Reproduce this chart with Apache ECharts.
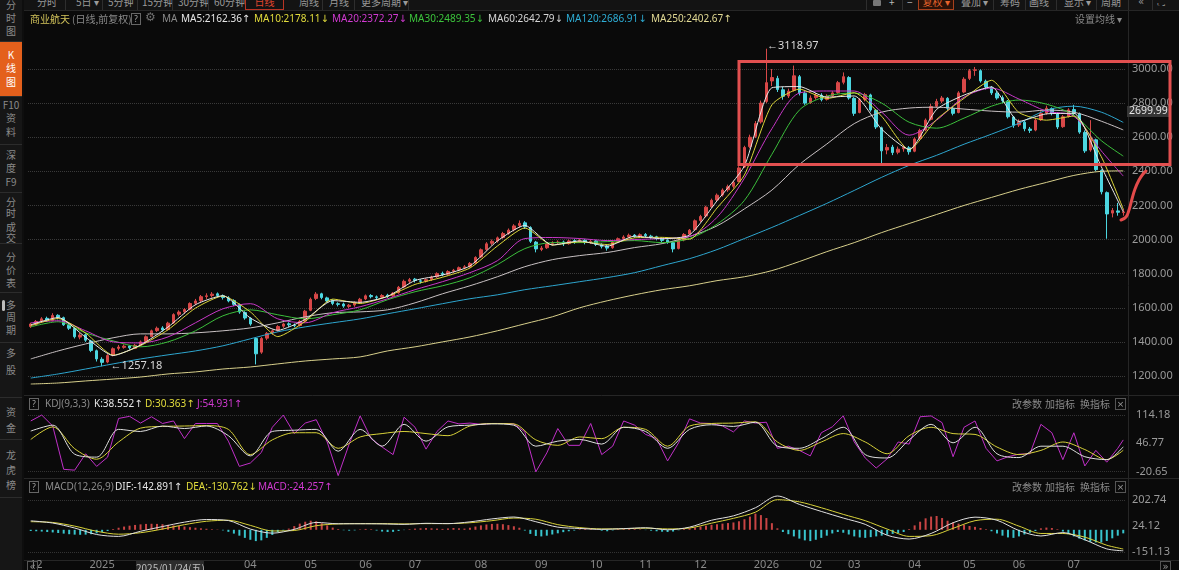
<!DOCTYPE html>
<html><head><meta charset="utf-8">
<script src="https://cdn.jsdelivr.net/npm/echarts/dist/echarts.min.js"></script>
<style>
html,body{margin:0;padding:0;background:#0a0a0a;}
#wrap{position:relative;width:1179px;height:570px;overflow:hidden;background:#0a0a0a;}
#chart{position:absolute;left:0;top:0;width:1179px;height:570px;}
.t{position:absolute;white-space:nowrap;font-size:10px;line-height:13px;font-family:'Noto Sans','DejaVu Sans','Noto Sans CJK SC',sans-serif;pointer-events:none;}
.c{font-family:'Noto Sans CJK SC','Noto Sans',sans-serif;}
.q{position:absolute;width:8px;height:10px;border:1px solid #666;color:#aaa;font-size:8px;line-height:10px;text-align:center;font-family:'Noto Sans',sans-serif;}
.x{position:absolute;width:9px;height:10px;border:1px solid #555;color:#999;font-size:9px;line-height:10px;text-align:center;font-family:'DejaVu Sans',sans-serif;}
.sb{position:absolute;left:0;width:22px;background:#161616;border-bottom:1px solid #2c2c2c;}
.sc{position:absolute;left:0;width:22px;text-align:center;font-size:10px;line-height:12px;color:#8a8a8a;font-family:'Noto Sans CJK SC','Noto Sans',sans-serif;}
.tb{position:absolute;top:-6px;height:15px;font-size:10px;line-height:15px;color:#9a9a9a;font-family:'Noto Sans CJK SC','Noto Sans',sans-serif;white-space:nowrap;}
.sep{position:absolute;top:0;width:1px;height:10px;background:#2e2e2e;}
</style>
</head><body>
<div id="wrap">
<div id="chart"></div>

<!-- top toolbar -->
<div style="position:absolute;left:22px;top:0;width:1157px;height:10px;background:#131313;border-bottom:1px solid #262626;"></div>
<div class="tb" style="left:37px">分时</div>
<div class="sep" style="left:65px"></div>
<div class="tb" style="left:76px">5日 ▾</div>
<div class="sep" style="left:102px"></div>
<div class="tb" style="left:108px">5分钟</div>
<div class="sep" style="left:137px"></div>
<div class="tb" style="left:142px">15分钟</div>
<div class="sep" style="left:172px"></div>
<div class="tb" style="left:178px">30分钟</div>
<div class="sep" style="left:208px"></div>
<div class="tb" style="left:214px">60分钟</div>
<div class="tb" style="left:245px;width:37px;text-align:center;border:1px solid #b83424;color:#e0452e;top:-7px">日线</div>
<div class="tb" style="left:299px">周线</div>
<div class="sep" style="left:322px"></div>
<div class="tb" style="left:329px">月线</div>
<div class="sep" style="left:354px"></div>
<div class="tb" style="left:361px">更多周期 ▾</div>
<div class="sep" style="left:408px"></div>
<div class="sep" style="left:866px"></div>
<div style="position:absolute;left:873px;top:0;width:8px;height:6px;background:#777;border-radius:1px"></div>
<div class="tb" style="left:889px;color:#bbb">+</div>
<div class="sep" style="left:902px"></div>
<div class="tb" style="left:907px;color:#bbb">−</div>
<div class="tb" style="left:918px;width:34px;text-align:center;border:1px solid #a8401c;background:#2a1208;color:#e8642c;top:-7px">复权 ▾</div>
<div class="tb" style="left:961px">叠加 ▾</div>
<div class="sep" style="left:993px"></div>
<div class="tb" style="left:1000px">筹码</div>
<div class="sep" style="left:1025px"></div>
<div class="tb" style="left:1029px">画线</div>
<div class="sep" style="left:1056px"></div>
<div class="tb" style="left:1064px">显示 ▾</div>
<div class="sep" style="left:1096px"></div>
<div class="tb" style="left:1101px">周期</div>
<div class="sep" style="left:1128px"></div>
<div class="tb" style="left:1138px;font-family:'DejaVu Sans'">«</div>
<div class="sep" style="left:1152px"></div>
<div class="tb" style="left:1158px;font-family:'DejaVu Sans'">⛶</div>

<!-- sidebar -->
<div style="position:absolute;left:0;top:0;width:22px;height:570px;background:#161616;"></div>
<div style="position:absolute;left:22px;top:0;width:2px;height:570px;background:#0e0e0e;"></div>
<div class="sb" style="top:0;height:41px"></div>
<div class="sb" style="top:42px;height:54px;background:#e4601c"></div>
<div class="sb" style="top:97px;height:47px"></div>
<div class="sb" style="top:145px;height:47px"></div>
<div class="sb" style="top:193px;height:50px"></div>
<div class="sb" style="top:244px;height:48px"></div>
<div class="sb" style="top:293px;height:49px"></div>
<div class="sb" style="top:343px;height:54px"></div>
<div class="sb" style="top:398px;height:41px"></div>
<div class="sb" style="top:440px;height:57px"></div>
<div style="position:absolute;left:2px;top:300px;width:3px;height:11px;background:#bdbdbd;border-radius:2px"></div>
<div class="sc" style="top:-1px">分</div><div class="sc" style="top:12px">时</div><div class="sc" style="top:25px">图</div>
<div class="sc" style="top:49px;color:#fff">K</div><div class="sc" style="top:62px;color:#fff">线</div><div class="sc" style="top:76px;color:#fff">图</div>
<div class="sc" style="top:99px">F10</div><div class="sc" style="top:112px">资</div><div class="sc" style="top:126px">料</div>
<div class="sc" style="top:149px">深</div><div class="sc" style="top:162px">度</div><div class="sc" style="top:176px">F9</div>
<div class="sc" style="top:196px">分</div><div class="sc" style="top:207px">时</div><div class="sc" style="top:221px">成</div><div class="sc" style="top:232px">交</div>
<div class="sc" style="top:251px">分</div><div class="sc" style="top:264px">价</div><div class="sc" style="top:277px">表</div>
<div class="sc" style="top:299px">多</div><div class="sc" style="top:311px">周</div><div class="sc" style="top:324px">期</div>
<div class="sc" style="top:347px">多</div><div class="sc" style="top:364px">股</div>
<div class="sc" style="top:406px">资</div><div class="sc" style="top:422px">金</div>
<div class="sc" style="top:449px">龙</div><div class="sc" style="top:464px">虎</div><div class="sc" style="top:479px">榜</div>

<!-- main legend row -->
<div class="t c" style="left:30px;top:12px;color:#d2c35a">商业航天</div>
<div class="t c" style="left:72px;top:12px;color:#8a8a8a">(日线,前复权)</div>
<div class="q" style="left:131px;top:13px">?</div>
<div class="t" style="left:145px;top:11px;color:#707070;font-family:'DejaVu Sans';font-size:12px">⚙</div>
<div class="t" style="left:162px;top:12px;color:#8a8a8a">MA</div>
<div class="t" style="left:181px;top:12px;color:#e6e6e6">MA5:2162.36↑</div>
<div class="t" style="left:254px;top:12px;color:#e2dc3c">MA10:2178.11↓</div>
<div class="t" style="left:332px;top:12px;color:#d23ad2">MA20:2372.27↓</div>
<div class="t" style="left:409px;top:12px;color:#3cc43c">MA30:2489.35↓</div>
<div class="t" style="left:488px;top:12px;color:#d6d6d6">MA60:2642.79↓</div>
<div class="t" style="left:566px;top:12px;color:#2eaed6">MA120:2686.91↓</div>
<div class="t" style="left:651px;top:12px;color:#e2da94">MA250:2402.67↑</div>
<div class="t c" style="left:1075px;top:12px;color:#8a8a8a">设置均线 ▾</div>

<!-- KDJ header -->
<div class="q" style="left:29px;top:398px">?</div>
<div class="t" style="left:45px;top:397px;color:#8a8a8a">KDJ(9,3,3)</div>
<div class="t" style="left:94px;top:397px;color:#e6e6e6">K:38.552↑</div>
<div class="t" style="left:145px;top:397px;color:#e2dc3c">D:30.363↑</div>
<div class="t" style="left:197px;top:397px;color:#d23ad2">J:54.931↑</div>
<div class="t c" style="left:1012px;top:397px;color:#8a8a8a">改参数</div>
<div class="t c" style="left:1045px;top:397px;color:#8a8a8a">加指标</div>
<div class="t c" style="left:1080px;top:397px;color:#8a8a8a">换指标</div>
<div class="x" style="left:1115px;top:398px">×</div>

<!-- MACD header -->
<div class="q" style="left:29px;top:481px">?</div>
<div class="t" style="left:45px;top:480px;color:#8a8a8a">MACD(12,26,9)</div>
<div class="t" style="left:115px;top:480px;color:#e6e6e6">DIF:-142.891↑</div>
<div class="t" style="left:186px;top:480px;color:#e2dc3c">DEA:-130.762↓</div>
<div class="t" style="left:258px;top:480px;color:#d23ad2">MACD:-24.257↑</div>
<div class="t c" style="left:1012px;top:480px;color:#8a8a8a">改参数</div>
<div class="t c" style="left:1045px;top:480px;color:#8a8a8a">加指标</div>
<div class="t c" style="left:1080px;top:480px;color:#8a8a8a">换指标</div>
<div class="x" style="left:1115px;top:481px">×</div>

<!-- bottom bits -->
<div class="x" style="left:27px;top:561px;font-size:10px">«</div>
<div class="x" style="left:1160px;top:561px;font-size:10px">»</div>
<div class="t c" style="left:136px;top:561px;width:68px;height:12px;background:#2c2c2c;color:#bdbdbd;text-align:center;line-height:14px">2025/01/24(五)</div>
</div>

<script>
const N = 200;
// candles: [open, close, low, high]
const candles = [
[1490,1505,1482,1512],[1503,1520,1495,1528],[1522,1535,1512,1545],[1538,1528,1518,1548],[1526,1555,1520,1568],
[1556,1545,1532,1562],[1542,1500,1494,1548],[1498,1480,1470,1510],[1478,1430,1420,1485],[1428,1440,1415,1452],
[1442,1410,1400,1450],[1405,1350,1340,1412],[1348,1300,1285,1355],[1298,1280,1257.18,1310],[1282,1320,1275,1328],
[1322,1360,1315,1368],[1362,1370,1350,1382],[1368,1375,1360,1385],[1376,1365,1355,1380],[1362,1380,1358,1388],
[1382,1400,1375,1408],[1402,1430,1396,1438],[1432,1465,1428,1472],[1466,1480,1458,1490],[1482,1470,1460,1492],
[1472,1510,1468,1518],[1512,1560,1505,1568],[1562,1575,1550,1585],[1576,1590,1565,1598],[1592,1625,1585,1632],
[1626,1640,1615,1652],[1642,1665,1632,1675],[1666,1670,1652,1685],[1672,1680,1660,1692],[1682,1672,1660,1690],
[1670,1660,1648,1678],[1658,1640,1632,1668],[1642,1620,1610,1650],[1618,1575,1565,1625],[1572,1540,1530,1580],
[1538,1505,1495,1545],[1420,1330,1268,1428],[1340,1420,1330,1428],[1422,1450,1410,1458],[1452,1465,1442,1472],
[1468,1490,1460,1498],[1492,1505,1482,1512],[1506,1500,1488,1515],[1498,1495,1485,1508],[1496,1520,1490,1528],
[1522,1580,1518,1588],[1585,1650,1580,1660],[1655,1680,1645,1692],[1682,1660,1650,1688],[1658,1640,1630,1665],
[1642,1625,1615,1650],[1624,1620,1608,1632],[1622,1610,1600,1630],[1608,1615,1598,1622],[1616,1630,1606,1638],
[1632,1650,1625,1658],[1652,1670,1645,1678],[1672,1665,1655,1680],[1664,1660,1650,1672],[1662,1672,1652,1680],
[1674,1668,1658,1682],[1670,1685,1662,1692],[1688,1720,1682,1728],[1722,1755,1715,1765],[1756,1765,1745,1775],
[1768,1760,1748,1775],[1758,1755,1742,1768],[1756,1765,1748,1772],[1766,1780,1758,1788],[1782,1800,1775,1808],
[1802,1795,1785,1812],[1796,1812,1790,1820],[1814,1820,1805,1828],[1822,1835,1815,1842],[1836,1840,1825,1850],
[1842,1860,1835,1868],[1862,1895,1856,1902],[1898,1940,1892,1948],[1942,1975,1935,1985],[1978,1990,1965,2000],
[1992,2010,1982,2018],[2012,2035,2005,2045],[2036,2055,2028,2065],[2058,2080,2048,2090],[2082,2095,2070,2112],
[2098,2075,2062,2108],[2070,1990,1980,2078],[1985,1945,1925,1992],[1942,1950,1932,1962],[1952,1975,1945,1982],
[1978,1980,1965,1990],[1982,1985,1970,1995],[1986,1975,1962,1994],[1976,1992,1970,2000],[1994,1988,1975,2002],
[1990,1995,1980,2005],[1996,1985,1972,2002],[1984,1990,1975,1998],[1992,1972,1962,1998],[1970,1960,1948,1978],
[1962,1950,1935,1968],[1952,1985,1946,1992],[1988,2005,1980,2012],[2006,2015,1998,2025],[2016,2025,2008,2035],
[2026,2020,2010,2032],[2018,2028,2012,2036],[2030,2022,2012,2038],[2020,2015,2005,2028],[2016,2005,1995,2022],
[2004,1995,1985,2012],[1996,1985,1975,2002],[1982,1945,1925,1990],[1948,1995,1942,2002],[1998,2030,1990,2038],
[2032,2055,2025,2062],[2058,2110,2052,2118],[2112,2135,2102,2145],[2138,2190,2130,2198],[2192,2230,2185,2240],
[2232,2260,2222,2270],[2262,2290,2252,2300],[2292,2310,2280,2322],[2312,2335,2300,2345],[2340,2420,2335,2430],
[2425,2540,2420,2550],[2545,2600,2535,2615],[2605,2680,2595,2695],[2690,2800,2680,2815],[2810,2920,2800,3118.97],
[2930,2950,2900,3000],[2945,2880,2865,2960],[2878,2840,2820,2895],[2842,2870,2830,2885],[2875,2960,2868,3020],
[2955,2860,2845,2965],[2858,2800,2790,2870],[2802,2830,2795,2845],[2832,2845,2820,2860],[2846,2820,2810,2858],
[2822,2840,2815,2852],[2842,2860,2832,2870],[2862,2920,2855,2930],[2922,2955,2910,2980],[2950,2830,2820,2958],
[2828,2740,2725,2835],[2745,2820,2740,2830],[2822,2850,2810,2860],[2848,2760,2750,2855],[2758,2660,2648,2765],
[2655,2520,2447,2662],[2525,2540,2500,2560],[2542,2510,2495,2555],[2512,2530,2500,2545],[2532,2540,2515,2555],
[2538,2515,2498,2548],[2518,2590,2512,2600],[2592,2640,2585,2650],[2642,2700,2635,2710],[2705,2780,2698,2795],
[2782,2810,2770,2825],[2812,2830,2800,2842],[2828,2770,2760,2835],[2768,2740,2728,2778],[2745,2860,2740,2870],
[2865,2940,2858,2952],[2945,2990,2935,3000],[2992,2995,2960,3012],[2990,2930,2920,2998],[2928,2895,2880,2938],
[2892,2860,2848,2900],[2858,2830,2820,2870],[2832,2815,2800,2845],[2812,2720,2710,2818],[2718,2670,2655,2725],
[2672,2690,2660,2705],[2688,2650,2635,2695],[2648,2640,2625,2660],[2642,2700,2635,2710],[2702,2740,2695,2752],
[2742,2770,2732,2785],[2768,2740,2728,2775],[2738,2660,2648,2745],[2662,2720,2655,2730],[2722,2760,2715,2770],
[2762,2740,2728,2790],[2738,2630,2620,2745],[2628,2520,2508,2640],[2525,2590,2515,2700],[2585,2410,2400,2592],
[2405,2280,2265,2412],[2275,2150,2005,2282],[2155,2170,2130,2185],[2168,2160,2140,2215],[2158,2162,2140,2180]
];

// moving averages, read every 5 bars (last value = last bar)
const MA_STEP = 5;
const ma5   = [1500,1543,1427,1320,1382,1487,1618,1671,1540,1468,1532,1642,1632,1667,1760,1792,1845,1992,2083,1968,1992,1961,2020,2005,2027,2227,2432,2890,2897,2835,2842,2647,2528,2763,2847,2895,2693,2737,2740,2427,2162.36];
const ma10  = [1495,1537,1452,1322,1378,1471,1598,1669,1576,1431,1520,1651,1625,1667,1737,1779,1833,1962,2068,1968,1987,1971,2010,2013,2002,2185,2379,2790,2882,2827,2861,2722,2527,2704,2828,2934,2745,2700,2724,2486,2178.11];
const ma20  = [1512,1524,1465,1400,1394,1429,1512,1594,1624,1535,1512,1571,1606,1653,1706,1753,1806,1876,2006,2012,2006,1994,2000,2006,2018,2130,2360,2650,2859,2871,2871,2747,2612,2700,2835,2888,2824,2753,2723,2520,2372.27];
const ma30  = [1488,1518,1453,1406,1371,1400,1465,1553,1588,1559,1535,1559,1588,1647,1694,1729,1776,1853,1947,1982,1982,1988,1994,1982,2006,2090,2230,2500,2759,2841,2859,2800,2688,2653,2712,2782,2818,2794,2729,2580,2489.35];
const ma60  = [1300,1347,1388,1424,1447,1447,1453,1465,1482,1512,1547,1571,1576,1588,1629,1682,1729,1782,1841,1882,1906,1924,1953,1976,2018,2080,2180,2290,2440,2560,2680,2747,2771,2776,2765,2753,2747,2759,2747,2694,2642.79];
const ma120 = [1188,1212,1241,1271,1300,1324,1347,1377,1418,1459,1488,1512,1535,1565,1594,1624,1653,1676,1706,1729,1753,1777,1806,1847,1888,1941,2006,2071,2141,2212,2288,2365,2435,2494,2559,2618,2682,2759,2782,2747,2686.91];
const ma250 = [1153,1159,1171,1182,1194,1212,1224,1241,1253,1271,1288,1300,1312,1347,1371,1400,1429,1465,1506,1547,1600,1641,1676,1706,1729,1759,1782,1818,1871,1929,1982,2041,2094,2147,2200,2247,2294,2335,2376,2400,2402.67];

// KDJ
const J_STEP = 2, KD_STEP = 4;
const kdjJ = [100,114,88,-15,-17,22,-8,14,106,111,95,110,94,100,58,94,94,94,52,-8,0,25,85,114,70,95,103,50,-30,45,112,58,38,20,109,85,33,75,100,93,95,92,94,94,93,74,-21,24,82,42,42,94,20,40,100,90,68,58,5,48,105,95,94,88,74,100,95,97,35,40,30,17,72,86,112,50,12,-12,10,50,45,110,112,96,15,85,100,35,5,15,21,22,92,72,8,72,-7,30,2,35,54.93];
const kdjK = [76,90,21,14,80,75,88,82,88,65,17,75,78,80,28,80,40,92,52,86,90,93,90,40,52,56,45,85,75,35,80,91,87,97,40,35,58,85,20,12,55,92,48,85,22,13,40,40,15,8,38.55];
const kdjD = [56,86,34,9,50,83,87,88,89,80,20,55,72,72,35,62,70,75,70,65,88,94,93,55,42,62,58,85,80,40,88,94,95,98,50,30,50,70,50,22,65,85,70,68,38,20,30,50,32,8,30.36];

// MACD
const dif = [61,46,12,-32,-45,-10,22,52,70,63,5,-23,3,50,41,41,40,37,44,42,54,74,87,55,18,9,3,8,14,0,18,65,95,150,230,173,125,80,37,-37,-63,-25,48,86,65,-5,-42,-19,-68,-130,-142.89];
const dea = [55,50,25,-10,-30,-20,5,35,58,65,30,-8,-5,28,40,42,42,40,42,42,48,62,80,72,35,15,6,7,11,6,12,45,78,120,205,190,150,105,62,5,-45,-40,10,62,72,25,-25,-25,-50,-105,-130.76];
const macdHist = [-8,-10,-12,-15,-18,-22,-26,-30,-33,-34,-33,-30,-24,-16,-8,5,14,22,28,33,37,40,41,40,38,34,30,26,22,18,14,10,7,4,2,-4,-14,-26,-40,-55,-68,-77,-72,-55,-35,-18,-5,8,25,42,55,62,58,45,30,15,5,-3,-6,-4,3,6,4,-5,-12,-15,-14,-8,-2,4,8,10,12,10,8,6,9,12,10,8,14,22,30,36,40,41,38,32,24,14,-5,-28,-42,-45,-40,-32,-24,-16,-10,-5,4,7,8,3,-6,-10,-4,6,8,7,5,3,-2,-6,-10,-13,-15,-12,-3,6,10,16,22,28,34,38,42,46,50,58,72,90,110,100,80,45,10,-15,-30,-45,-60,-72,-77,-68,-55,-40,-25,-15,-20,-32,-45,-52,-55,-50,-45,-40,-34,-28,-22,-15,5,30,55,78,90,94,80,62,50,42,34,26,20,12,4,-10,-25,-40,-52,-55,-45,-32,-20,-8,10,15,12,4,-12,-30,-45,-60,-72,-82,-86,-87,-76,-58,-40,-24.26];

// x-axis month ticks
const monthBars   = [1,13,40,51,61,70,82,93,103,112,122,134,143,150,161,171,180,190];
const monthLabels = ['12','2025','04','05','06','07','08','09','10','11','12','2026','02','03','04','05','06','07'];
const priceTicks = [1200,1400,1600,1800,2000,2200,2400,2600,2800,3000];

const cats = Array.from({length: N}, (_, i) => String(i));
const sampled = (arr, step) => arr.map((v, k) => [Math.min(k * step, N - 1), v]);

const UP = '#d84848', DOWN = '#4cd6e0';
const grid0 = {left: 28, width: 1098, top: 34.89, height: 358.17};
const grid1 = {left: 28, width: 1098, top: 415, height: 56.7};
const grid2 = {left: 28, width: 1098, top: 500, height: 55.5};

const mainSplitColors = [];
for (let v = 1100; v <= 3200; v += 100) mainSplitColors.push(priceTicks.includes(v) ? '#3a3a3a' : 'rgba(0,0,0,0)');

const axisLabelStyle = {color: '#9a9a9a', fontSize: 11, fontFamily: 'Noto Sans'};

function xAx(gi, showLabel) {
  return {
    type: 'category', gridIndex: gi, data: cats, boundaryGap: true,
    axisLine: {show: false}, axisTick: {show: false}, splitLine: {show: false},
    axisLabel: showLabel ? {
      show: true, color: '#8a8a8a', fontSize: 11, fontFamily: 'Noto Sans', margin: 7,
      interval: (idx) => monthBars.includes(idx),
      formatter: (val) => { const k = monthBars.indexOf(Number(val)); return k >= 0 ? monthLabels[k] : ''; }
    } : {show: false}
  };
}

function line(name, data, color, xi, yi, extra) {
  return Object.assign({
    type: 'line', name, data, xAxisIndex: xi, yAxisIndex: yi, symbol: 'none',
    lineStyle: {color, width: 1}, itemStyle: {color}, connectNulls: true, silent: true, z: 3
  }, extra || {});
}

const chart = echarts.init(document.getElementById('chart'), null, {renderer: 'canvas'});
const option = {
  backgroundColor: 'transparent',
  animation: false,
  grid: [grid0, grid1, grid2],
  xAxis: [xAx(0, false), xAx(1, false), xAx(2, true)],
  yAxis: [
    {type: 'value', gridIndex: 0, position: 'right', min: 1100, max: 3200, interval: 100, scale: true,
     axisLine: {show: false}, axisTick: {show: false},
     axisLabel: Object.assign({margin: 6, formatter: (v) => priceTicks.includes(v) ? v.toFixed(2) : ''}, axisLabelStyle),
     splitLine: {show: true, lineStyle: {type: 'dotted', color: mainSplitColors, width: 1}}},
    {type: 'value', gridIndex: 1, position: 'right', min: -20.65, max: 114.18, interval: 67.415,
     axisLine: {show: false}, axisTick: {show: false},
     axisLabel: Object.assign({margin: 10, formatter: (v) => v > 80 ? '114.18' : (v < 0 ? '-20.65' : '46.77')}, axisLabelStyle),
     splitLine: {show: true, lineStyle: {type: 'dotted', color: ['#333', 'rgba(0,0,0,0)', '#333']}}},
    {type: 'value', gridIndex: 2, position: 'right', min: -151.13, max: 202.74, interval: 176.935,
     axisLine: {show: false}, axisTick: {show: false},
     axisLabel: Object.assign({margin: 6, formatter: (v) => v > 100 ? '202.74' : (v < -100 ? '-151.13' : '24.12')}, axisLabelStyle),
     splitLine: {show: true, lineStyle: {type: 'dotted', color: ['#333', 'rgba(0,0,0,0)', '#333']}}}
  ],
  series: [
    {type: 'candlestick', name: 'K', data: candles, xAxisIndex: 0, yAxisIndex: 0, barWidth: 3, silent: true, z: 2,
     itemStyle: {color: UP, color0: DOWN, borderColor: UP, borderColor0: DOWN, borderWidth: 1},
     markPoint: {
       symbol: 'circle', symbolSize: 1, silent: true,
       itemStyle: {color: 'rgba(0,0,0,0)'},
       label: {show: true, position: 'right', color: '#d8d8d8', fontSize: 11, fontFamily: 'Noto Sans'},
       data: [
         {coord: [134, 3118.97], label: {formatter: '←3118.97', distance: 0, offset: [0, -3]}},
         {coord: [13, 1257.18], label: {formatter: '←1257.18', distance: 8, offset: [0, 0]}}
       ]
     }},
    line('MA250', sampled(ma250, MA_STEP), '#d8d08c', 0, 0, {smooth: 0.3}),
    line('MA120', sampled(ma120, MA_STEP), '#2ea6cf', 0, 0, {smooth: 0.3}),
    line('MA60', sampled(ma60, MA_STEP), '#c9c2c4', 0, 0, {smooth: 0.3}),
    line('MA30', sampled(ma30, MA_STEP), '#3cbf3c', 0, 0, {smooth: 0.3}),
    line('MA20', sampled(ma20, MA_STEP), '#c838c8', 0, 0, {smooth: 0.3}),
    line('MA10', sampled(ma10, MA_STEP), '#dcd63a', 0, 0, {smooth: 0.2}),
    line('MA5', sampled(ma5, MA_STEP), '#e8e8e8', 0, 0, {smooth: 0.2}),
    line('J', sampled(kdjJ, J_STEP), '#c030c8', 1, 1, {clip: false}),
    line('D', sampled(kdjD, KD_STEP), '#d8d23a', 1, 1, {clip: false, smooth: 0.3}),
    line('K', sampled(kdjK, KD_STEP), '#e0e0e0', 1, 1, {clip: false, smooth: 0.3}),
    {type: 'bar', name: 'MACD', xAxisIndex: 2, yAxisIndex: 2, barWidth: 2, silent: true, z: 2,
     data: macdHist.map(v => ({value: v, itemStyle: {color: v >= 0 ? '#c84444' : '#38c4cc'}}))},
    line('DEA', sampled(dea, KD_STEP), '#d8d23a', 2, 2, {clip: false, smooth: 0.3}),
    line('DIF', sampled(dif, KD_STEP), '#e0e0e0', 2, 2, {clip: false, smooth: 0.3})
  ],
  graphic: [
    {type: 'line', shape: {x1: 24, y1: 395.5, x2: 1179, y2: 395.5}, style: {stroke: '#262626', lineWidth: 1}, silent: true},
    {type: 'line', shape: {x1: 24, y1: 478.5, x2: 1179, y2: 478.5}, style: {stroke: '#262626', lineWidth: 1}, silent: true},
    {type: 'line', shape: {x1: 24, y1: 560.5, x2: 1179, y2: 560.5}, style: {stroke: '#262626', lineWidth: 1}, silent: true},
    {type: 'line', shape: {x1: 1128.5, y1: 11, x2: 1128.5, y2: 560}, style: {stroke: '#262626', lineWidth: 1}, silent: true},
    {type: 'rect', shape: {x: 1127, y: 106, width: 43, height: 11}, style: {fill: '#363636'}, silent: true, z: 50},
    {type: 'text', x: 1129, y: 111.5, style: {text: '2699.99', fill: '#e6e6e6', fontSize: 10.5, fontFamily: 'Noto Sans', verticalAlign: 'middle'}, silent: true, z: 51},
    {type: 'rect', shape: {x: 739, y: 61.5, width: 431, height: 103}, style: {fill: 'none', stroke: '#e25050', lineWidth: 3}, silent: true, z: 60},
    {type: 'polyline', shape: {points: [[1121, 220], [1126, 217], [1129, 210], [1132, 199], [1135, 189], [1139, 180], [1143, 174], [1146, 171]], smooth: 0.4},
     style: {fill: 'none', stroke: '#e24a4a', lineWidth: 3, lineCap: 'round'}, silent: true, z: 60}
  ]
};
chart.setOption(option);
</script>
</body></html>
